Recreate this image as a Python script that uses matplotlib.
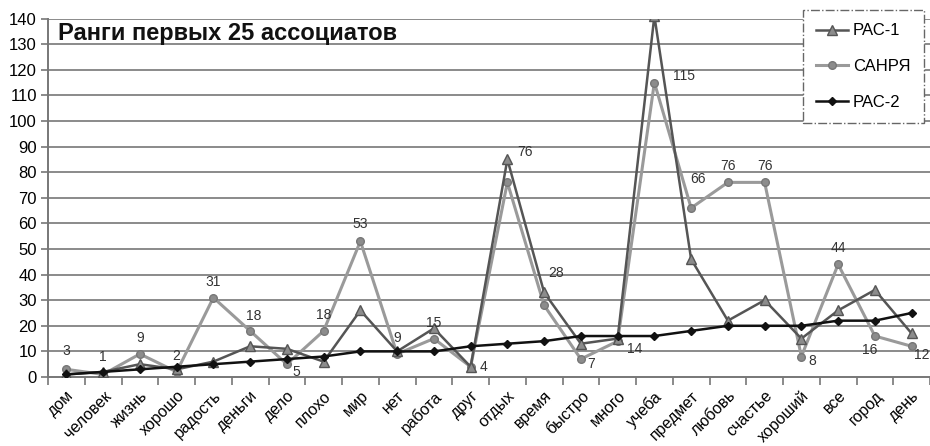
import numpy as np
import matplotlib.pyplot as plt

plt.rcParams['font.family'] = ['Liberation Sans', 'DejaVu Sans']

words = ['дом', 'человек', 'жизнь', 'хорошо', 'радость', 'деньги', 'дело', 'плохо',
         'мир', 'нет', 'работа', 'друг', 'отдых', 'время', 'быстро', 'много',
         'учеба', 'предмет', 'любовь', 'счастье', 'хороший', 'все', 'город', 'день']

rac1 = [1, 2, 5, 3, 6, 12, 11, 6, 26, 10, 19, 4, 85, 33, 13, 15,
        141, 46, 22, 30, 15, 26, 34, 17]
sanrya = [3, 1, 9, 2, 31, 18, 5, 18, 53, 9, 15, 4, 76, 28, 7, 14,
          115, 66, 76, 76, 8, 44, 16, 12]
rac2 = [1, 2, 3, 4, 5, 6, 7, 8, 10, 10, 10, 12, 13, 14, 16, 16,
        16, 18, 20, 20, 20, 22, 22, 25]

# where each САНРЯ value label sits relative to its point (pixels, x right / y up)
label_shift = [(0, 18), (0, 17), (0, 16), (0, 16), (0, 16), (4, 15), (9, -8), (0, 16),
               (0, 17), (0, 16), (0, 16), (13, 0), (18, 30), (12, 32), (10, -5), (17, -8),
               (30, 7), (7, 29), (0, 16), (0, 16), (11, -4), (0, 16), (-5, -14), (2, -9)]

fig = plt.figure(figsize=(9.3, 4.46), dpi=100)
ax = fig.add_axes([48 / 930, 1 - 377 / 446, 882 / 930, 358.5 / 446])

x = np.arange(len(words))

ax.set_xlim(-0.5, len(words) - 0.5)
ax.set_ylim(0, 140)
ax.set_yticks(np.arange(0, 141, 10))
for v in range(10, 141, 10):
    ax.axhline(v, color='#8a8a8a', lw=1.4, zorder=1)

ax.plot(x, rac1, color='#555555', lw=1.8, marker='^', ms=7, mfc='#8c8c8c', mec='#555555',
        mew=1, zorder=4, label='РАС-1')
ax.plot(x, sanrya, color='#9a9a9a', lw=2.2, marker='o', ms=5.5, mfc='#8c8c8c', mec='#777777',
        mew=1, zorder=3, label='САНРЯ')
ax.plot(x, rac2, color='#111111', lw=1.8, marker='D', ms=4, mfc='#111111', mec='#111111',
        zorder=5, label='РАС-2')

for xi, val, (dx, dy) in zip(x, sanrya, label_shift):
    ax.annotate(str(val), (xi, val), xytext=(dx, dy), textcoords='offset pixels',
                ha='left' if xi == len(words) - 1 else 'center', va='center',
                fontsize=10, color='#333333', zorder=6, annotation_clip=False)

for side in ['top', 'right']:
    ax.spines[side].set_visible(False)
ax.spines['left'].set_color('#777777')
ax.spines['left'].set_linewidth(1.4)
ax.spines['bottom'].set_color('#777777')
ax.spines['bottom'].set_linewidth(1.4)

ax.set_xticks(x)
ax.set_xticklabels(words, rotation=45, ha='right', rotation_mode='anchor', fontsize=11.5)
ax.set_xticks(np.arange(-0.5, len(words), 1), minor=True)
ax.tick_params(axis='x', which='major', length=0, pad=8)
ax.tick_params(axis='x', which='minor', length=6, width=1.2, color='#777777')
ax.tick_params(axis='y', length=5, width=1.2, color='#777777', labelsize=12, pad=3)

ax.text(0.011, 0.99, 'Ранги первых 25 ассоциатов', transform=ax.transAxes,
        ha='left', va='top', fontsize=17, fontweight='bold', color='#111111', zorder=7)

leg = fig.legend(loc='upper left', bbox_to_anchor=(803 / 930, 1 - 10 / 446),
                 fontsize=12, handlelength=1.9, labelspacing=1.25, borderpad=0.8,
                 handletextpad=0.3, borderaxespad=0, fancybox=False, framealpha=1)
leg.get_frame().set_linestyle('-.')
leg.get_frame().set_edgecolor('#666666')
leg.get_frame().set_linewidth(1)

fig.savefig('out.png', dpi=100)
